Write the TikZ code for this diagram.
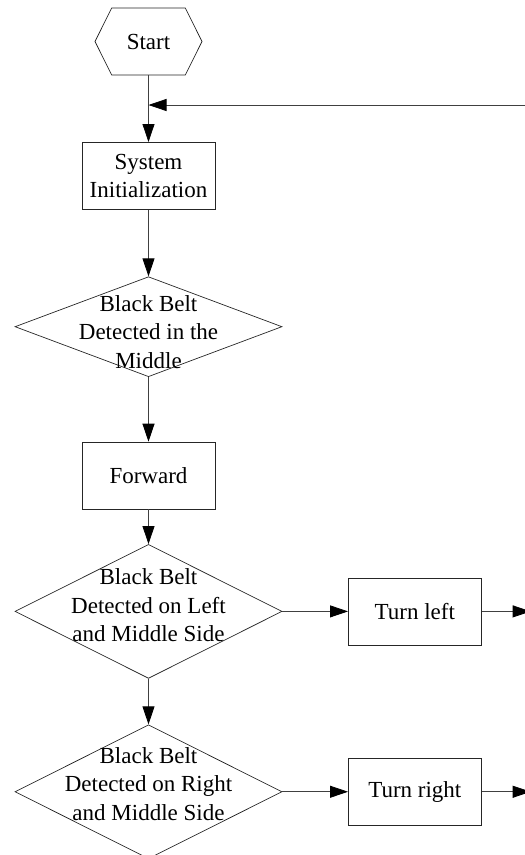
\documentclass[tikz,border=0pt]{standalone}
\usepackage{fontspec}
\setmainfont{Liberation Serif}
\usetikzlibrary{shapes.geometric,shapes.symbols,arrows.meta,calc}
\tikzstyle{terminal} = [draw=black!85, line width=0.7pt, shape=signal,
  signal to=west and east, signal pointer angle=127,
  minimum width=107pt, minimum height=67pt, inner sep=0pt]
\tikzstyle{process} = [draw=black!85, line width=0.7pt, rectangle,
  minimum width=133pt, minimum height=67pt, align=center, inner sep=0pt]
\tikzstyle{decision} = [draw=black!85, line width=0.7pt, diamond,
  minimum width=267pt, minimum height=134pt, inner sep=0pt]
\tikzstyle{line} = [draw, color=black!75, line width=0.8pt,
  -{Triangle[length=18pt,width=12pt,black]}]
\newcommand{\textsize}{\fontsize{23}{28.5}\selectfont}
\newcommand{\choice}[4]{node (dec#1) [decision, #2,
  label={[align=center, yshift=#3]center:{\textsize #4}}] {}}

\begin{document}
\begin{tikzpicture}[x=1pt, y=-1pt, font=\textsize]
  \useasboundingbox (0,0) rectangle (525,855);

  % Draw diagram elements
  \node (start) [terminal] at (148.5,41.5) {Start};
  \path (start.south)+(0.0,100.5) node (init) [process]
    {System\\Initialization};
  \path (init.south)+(0.0,117) \choice{1}{minimum height=100pt}{-5pt}
    {Black Belt\\Detected in the\\Middle};
  \path (dec1.south)+(0.0,98.5) node (fwd) [process] {Forward};
  \path (fwd.south)+(0.0,102) \choice{2}{}{6pt}
    {Black Belt\\Detected on Left\\and Middle Side};
  \path (dec2.south)+(0.0,113) \choice{3}{}{8pt}
    {Black Belt\\Detected on Right\\and Middle Side};

  \path (dec2.east)+(132.5,0.0) node (turnl) [process] {Turn left};
  \path (dec3.east)+(132.5,0.0) node (turnr) [process] {Turn right};

  % loose ends at the border
  \coordinate (loopin) at (528,105);
  \coordinate (merge) at (start.south |- loopin);
  \path (turnl.east)+(49,0.0) coordinate (outl);
  \path (turnr.east)+(49,0.0) coordinate (outr);

  % Draw arrows between elements
  \path [line] (start.south) -- (init.north);
  \path [line] (loopin) -- (merge);
  \path [line] (init.south) -- (dec1.north);
  \path [line] (dec1.south) -- (fwd.north);
  \path [line] (fwd.south) -- (dec2.north);
  \path [line] (dec2.south) -- (dec3.north);
  \path [line] (dec2.east) -- (turnl.west);
  \path [line] (dec3.east) -- (turnr.west);
  \path [line] (turnl.east) -- (outl);
  \path [line] (turnr.east) -- (outr);

\end{tikzpicture}
\end{document}
